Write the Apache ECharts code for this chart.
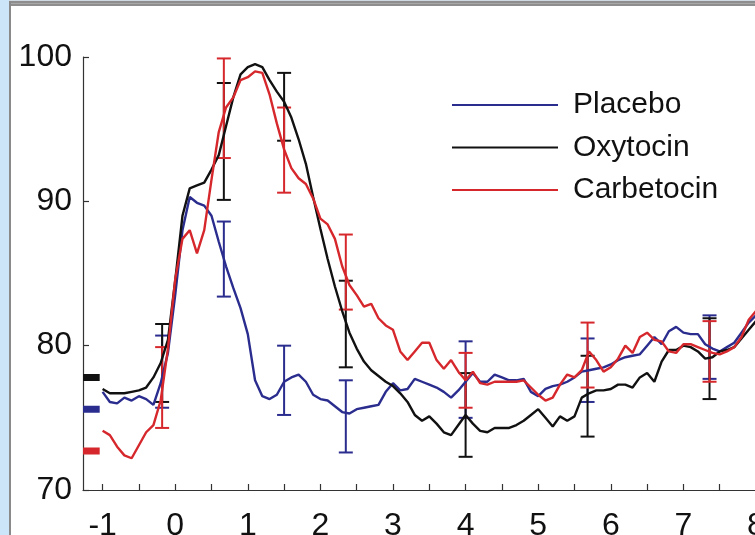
<!DOCTYPE html>
<html>
<head>
<meta charset="utf-8">
<script src="https://cdn.jsdelivr.net/npm/echarts@6/dist/echarts.min.js"></script>
<style>
  html, body { margin: 0; padding: 0; overflow: hidden; background: #ffffff; width: 755px; height: 535px; }
  .fr { position: absolute; }
  #chart { position: absolute; left: 0; top: 0; width: 757px; height: 535px; }
</style>
</head>
<body>
<div class="fr" style="left:0;top:0;width:9px;height:535px;background:#cde5f9;"></div>
<div class="fr" style="left:9px;top:0;width:2px;height:535px;background:#8a8a8a;"></div>
<div class="fr" style="left:9px;top:0;width:746px;height:1px;background:#cfd9e2;"></div>
<div class="fr" style="left:11px;top:1px;width:744px;height:5px;background:#8e8e8e;"></div>
<div class="fr" style="left:11px;top:3px;width:744px;height:1px;background:#a8a8a8;"></div>
<div id="chart"></div>
<script>
// ---- time axis (minutes) ----
const times = [-1.0,-0.9,-0.8,-0.7,-0.6,-0.5,-0.4,-0.3,-0.2,-0.1,
  0.0,0.1,0.2,0.3,0.4,0.5,0.6,0.7,0.8,0.9,
  1.0,1.1,1.2,1.3,1.4,1.5,1.6,1.7,1.8,1.9,
  2.0,2.1,2.2,2.3,2.4,2.5,2.6,2.7,2.8,2.9,
  3.0,3.1,3.2,3.3,3.4,3.5,3.6,3.7,3.8,3.9,
  4.0,4.1,4.2,4.3,4.4,4.5,4.6,4.7,4.8,4.9,
  5.0,5.1,5.2,5.3,5.4,5.5,5.6,5.7,5.8,5.9,
  6.0,6.1,6.2,6.3,6.4,6.5,6.6,6.7,6.8,6.9,
  7.0,7.1,7.2,7.3,7.4,7.5,7.6,7.7,7.8,7.9,8.0];

// ---- series values ----
const placebo = [76.8,76.1,76.0,76.4,76.2,76.5,76.3,75.9,77.4,79.5,
  83.5,88.0,90.3,89.9,89.7,89.0,87.2,85.5,84.0,82.6,
  80.8,77.6,76.5,76.3,76.6,77.5,77.8,78.0,77.5,76.6,
  76.3,76.2,75.8,75.4,75.3,75.6,75.7,75.8,75.9,76.8,
  77.4,76.9,77.0,77.7,77.5,77.3,77.1,76.8,76.4,76.9,
  77.5,78.1,77.5,77.5,78.0,77.8,77.6,77.6,77.7,76.8,
  76.5,77.0,77.2,77.3,77.5,77.8,78.2,78.3,78.4,78.5,
  78.7,79.0,79.2,79.3,79.4,80.0,80.6,80.1,81.0,81.3,
  80.9,80.8,80.8,80.1,79.8,79.6,79.9,80.2,80.9,81.6,82.1];

const oxytocin = [77.0,76.7,76.7,76.7,76.8,76.9,77.1,77.8,78.8,80.4,
  84.5,89.0,90.9,91.1,91.3,92.2,93.2,95.2,97.2,98.8,
  99.3,99.5,99.3,98.4,97.6,96.9,95.8,94.3,92.6,90.3,
  88.1,86.0,84.1,82.4,80.9,79.8,78.9,78.3,77.9,77.5,
  77.2,76.7,76.1,75.2,74.8,75.1,74.6,74.0,73.8,74.5,
  75.2,74.6,74.1,74.0,74.3,74.3,74.3,74.5,74.8,75.2,
  75.6,75.0,74.4,75.1,74.8,75.1,76.4,76.7,76.9,76.9,
  77.0,77.3,77.3,77.1,77.8,78.1,77.5,78.9,79.7,79.7,
  80.0,79.9,79.6,79.1,79.2,79.6,79.7,79.9,80.5,81.1,81.7];

const carbetocin = [74.1,73.8,73.0,72.4,72.2,73.1,74.0,74.5,76.2,79.8,
  84.6,87.4,88.0,86.4,88.0,91.5,94.8,96.5,97.2,98.4,
  98.6,99.0,98.9,97.4,95.4,93.6,92.3,91.6,91.2,90.2,
  88.8,88.4,87.4,85.5,84.2,83.5,82.7,82.9,81.9,81.4,
  81.1,79.6,79.0,79.6,80.2,80.2,79.0,78.4,79.0,78.2,
  77.6,78.2,77.4,77.3,77.5,77.5,77.5,77.5,77.6,77.1,
  76.6,76.2,76.4,77.3,78.0,77.8,78.3,79.6,79.0,78.2,
  78.5,79.1,80.0,79.5,80.6,80.9,80.4,80.3,79.6,79.5,
  80.1,80.1,79.9,79.7,79.5,79.4,79.6,79.9,80.6,81.8,82.4];

// ---- error bars (time, low, high) ----
const placeboErrX    = [-0.18, 0.67, 1.5, 2.35, 4.0, 5.68, 7.36];
const placeboErrLow  = [75.7, 83.4, 75.2, 72.6, 75.0, 76.1, 77.7];
const placeboErrHigh = [80.7, 88.6, 80.0, 77.6, 80.3, 80.5, 82.1];

const oxytocinErrX    = [-0.18, 0.67, 1.5, 2.35, 4.0, 5.68, 7.36];
const oxytocinErrLow  = [76.1, 90.1, 94.2, 78.5, 72.3, 73.7, 76.3];
const oxytocinErrHigh = [81.5, 98.2, 98.9, 84.5, 78.1, 79.3, 81.9];

const carbetocinErrX    = [-0.18, 0.67, 1.5, 2.35, 4.0, 5.68, 7.36];
const carbetocinErrLow  = [74.3, 93.0, 90.6, 82.5, 75.7, 77.1, 77.5];
const carbetocinErrHigh = [79.9, 99.9, 96.5, 87.7, 79.5, 81.6, 81.7];

// ---- baseline markers ----
const baselinePlacebo = 75.6;
const baselineOxytocin = 77.8;
const baselineCarbetocin = 72.7;

// ---- tick labels ----
const xTickLabels = [-1, 0, 1, 2, 3, 4, 5, 6, 7, 8];
const xTickMarks = [-1,-0.5,0,0.5,1,1.5,2,2.5,3,3.5,4,4.5,5,5.5,6,6.5,7,7.5,8];
const yTicks = [70, 80, 90, 100];

const names = ['Placebo', 'Oxytocin', 'Carbetocin'];
const colors = ['#2a2c8e', '#111111', '#d6282c'];
const xMin = -1.27, xMax = 8.0;
const baseStart = -1.27, baseEnd = -1.04;

const FONT = '"Liberation Sans", Arial, Helvetica, sans-serif';

function pairs(xs, ys) { return xs.map((x, i) => [x, ys[i]]); }
function errData(xs, lo, hi) { return xs.map((x, i) => [x, lo[i], hi[i]]); }

function errSeries(name, color, data) {
  return {
    name: name, type: 'custom', data: data,
    encode: { x: 0, y: [1, 2] },
    z: 3,
    renderItem: function (params, api) {
      const x = api.value(0);
      const lo = api.coord([x, api.value(1)]);
      const hi = api.coord([x, api.value(2)]);
      const w = 7;
      const st = { stroke: color, lineWidth: 2 };
      return {
        type: 'group',
        children: [
          { type: 'line', shape: { x1: lo[0], y1: lo[1], x2: hi[0], y2: hi[1] }, style: st },
          { type: 'line', shape: { x1: lo[0] - w, y1: lo[1], x2: lo[0] + w, y2: lo[1] }, style: st },
          { type: 'line', shape: { x1: hi[0] - w, y1: hi[1], x2: hi[0] + w, y2: hi[1] }, style: st }
        ]
      };
    }
  };
}

function lineSeries(name, color, values) {
  return {
    name: name, type: 'line', data: pairs(times, values),
    symbol: 'none', z: 4,
    lineStyle: { color: color, width: 2.4 },
    itemStyle: { color: color }
  };
}

function baseSeries(name, color, v) {
  return {
    name: name, type: 'line', data: [[baseStart, v], [baseEnd, v]],
    symbol: 'none', z: 5, silent: true,
    lineStyle: { color: color, width: 7, cap: 'butt' },
    itemStyle: { color: color }
  };
}

const chart = echarts.init(document.getElementById('chart'), null, { renderer: 'canvas' });
chart.setOption({
  animation: false,
  backgroundColor: 'transparent',
  grid: { left: 83, right: 1, top: 57, bottom: 45, containLabel: false, outerBoundsMode: 'none' },
  legend: {
    data: names,
    orient: 'vertical',
    left: 452, top: 90,
    padding: 0,
    icon: 'rect',
    itemWidth: 106, itemHeight: 2,
    itemGap: 12.5,
    selectedMode: false,
    textStyle: { fontFamily: FONT, fontSize: 30, color: '#111', padding: [0, 0, 0, 10], lineHeight: 30 }
  },
  xAxis: {
    type: 'value', min: xMin, max: xMax,
    axisLine: { show: true, onZero: false, lineStyle: { color: '#333', width: 1.2 } },
    axisTick: { show: true, inside: true, length: 6, customValues: xTickMarks, lineStyle: { color: '#333', width: 1.2 } },
    axisLabel: { customValues: xTickLabels, fontFamily: FONT, fontSize: 32, color: '#111', margin: 20 },
    splitLine: { show: false }
  },
  yAxis: {
    type: 'value', min: 70, max: 100, interval: 10,
    axisLine: { show: true, onZero: false, lineStyle: { color: '#333', width: 1.2 } },
    axisTick: { show: true, inside: true, length: 6, customValues: yTicks, lineStyle: { color: '#333', width: 1.2 } },
    axisLabel: { customValues: yTicks, fontFamily: FONT, fontSize: 32, color: '#111', margin: 11 },
    splitLine: { show: false }
  },
  series: [
    errSeries('PlaceboErr', colors[0], errData(placeboErrX, placeboErrLow, placeboErrHigh)),
    errSeries('OxytocinErr', colors[1], errData(oxytocinErrX, oxytocinErrLow, oxytocinErrHigh)),
    errSeries('CarbetocinErr', colors[2], errData(carbetocinErrX, carbetocinErrLow, carbetocinErrHigh)),
    lineSeries(names[0], colors[0], placebo),
    lineSeries(names[1], colors[1], oxytocin),
    lineSeries(names[2], colors[2], carbetocin),
    baseSeries('PlaceboBase', colors[0], baselinePlacebo),
    baseSeries('OxytocinBase', colors[1], baselineOxytocin),
    baseSeries('CarbetocinBase', colors[2], baselineCarbetocin)
  ]
});
</script>
</body>
</html>
